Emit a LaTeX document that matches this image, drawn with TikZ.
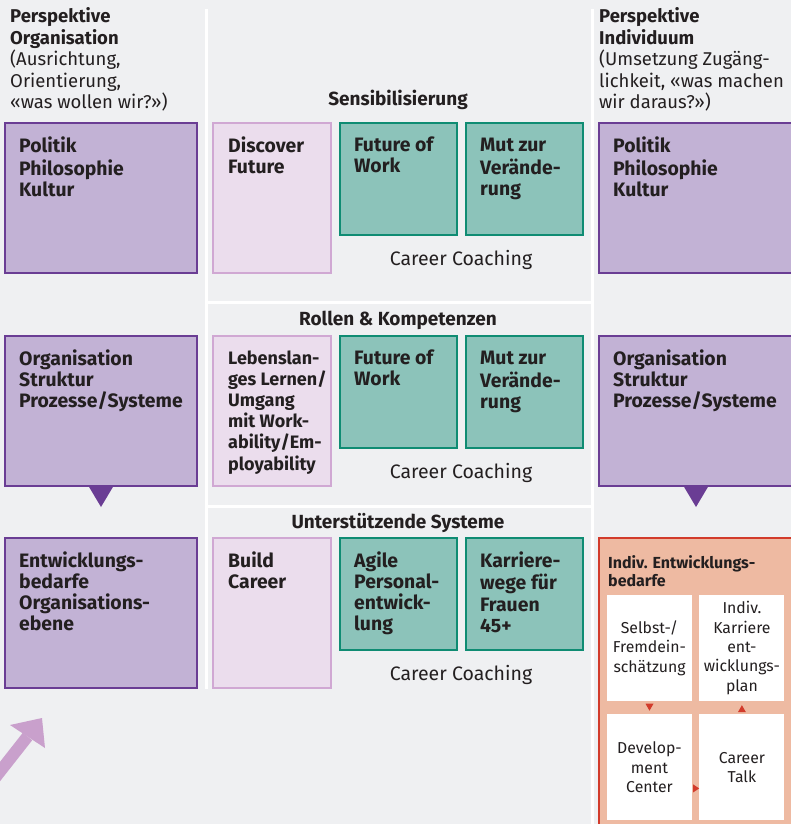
\documentclass[tikz,border=0pt]{standalone}
\usepackage{fontspec}
\setmainfont{Fira Sans}
\usetikzlibrary{positioning,calc}

\definecolor{bgcol}{HTML}{EFF0F2}
\definecolor{orgfill}{HTML}{C2B2D5}
\definecolor{orgline}{HTML}{6A3D94}
\definecolor{pinkfill}{HTML}{EBDDED}
\definecolor{pinkline}{HTML}{D0A8D3}
\definecolor{greenfill}{HTML}{8CC3BA}
\definecolor{greenline}{HTML}{0F8C73}
\definecolor{redfill}{HTML}{EEBAA2}
\definecolor{redline}{HTML}{D23B2B}
\definecolor{arrowcol}{HTML}{C9A0CC}
\definecolor{txtcol}{HTML}{231F20}

\tikzset{
  sepline/.style={white, line width=3pt},
  orgbox/.style={draw=orgline, fill=orgfill, line width=2pt},
  discbox/.style={draw=pinkline, fill=pinkfill, line width=2pt},
  greenbox/.style={draw=greenline, fill=greenfill, line width=2pt},
  redbox/.style={draw=redline, fill=redfill, line width=2pt},
  headtxt/.style={anchor=north west, align=left, inner sep=0pt, text=txtcol, font=\fontsize{18.5}{21.3}\selectfont},
  boxtxt/.style={anchor=north west, align=left, inner sep=0pt, text=txtcol, font=\bfseries\fontsize{19.4}{21.3}\selectfont},
  rowtxt/.style={anchor=base, inner sep=0pt, text=txtcol, font=\bfseries\fontsize{19}{20}\selectfont},
  cctxt/.style={anchor=base, inner sep=0pt, text=txtcol, font=\fontsize{19.5}{20}\selectfont},
  redtitle/.style={anchor=north west, align=left, inner sep=0pt, text=txtcol, font=\bfseries\fontsize{16}{16}\selectfont},
  whitebox/.style={fill=white, minimum width=85pt, minimum height=106pt, inner sep=0pt, align=center, text=txtcol, font=\fontsize{15.8}{19.4}\selectfont},
}

\begin{document}
\begin{tikzpicture}[x=1pt, y=-1pt]

  \useasboundingbox (0,0) rectangle (791,824);
  \fill[bgcol] (0,0) rectangle (791,824);
  \clip (0,0) rectangle (791,824);

  %white separators
  \draw[sepline] (206,9) -- (206,689);
  \draw[sepline] (592,9) -- (592,830);
  \foreach \y in {302,506}{
      \draw[sepline] (206,\y) -- (592,\y);
  }

  %column heads (top of first line = baseline - strut)
  \node[headtxt] (orghead) at (10,7.1) {\strut\textbf{Perspektive}\\\textbf{Organisation}\\(Ausrichtung,\\Orientierung,\\«was wollen wir?»)};
  \node[headtxt] (indhead) at (599,7.1) {\strut\textbf{Perspektive}\\\textbf{Individuum}\\(Umsetzung Zugäng-\\lichkeit, «was machen\\wir daraus?»)};

  %row titles and career coaching
  \def\dx{398};
  \foreach \y/\name/\txt in {106/sens/Sensibilisierung, 325/rollen/{Rollen \& Kompetenzen}, 528/unter/{Unterstützende Systeme}}{
      \node[rowtxt] (\name) at (\dx,\y) {\txt};
  }
  \foreach \y/\name in {265/cc1, 478/cc2, 680/cc3}{
      \node[cctxt] (\name) at (461,\y) {Career Coaching};
  }

  %purple boxes
  \def\h{150};
  \def\dy{13.1};
  \foreach \y/\name/\txt in {123/polL/{Politik\\Philosophie\\Kultur}, 336/orgL/{Organisation\\Struktur\\Prozesse/Systeme}, 538/entwL/{Entwicklungs-\\bedarfe\\Organisations-\\ebene}}{
      \draw[orgbox] (5,\y) rectangle (197,\y+\h);
      \node[boxtxt] (\name) at (19,\y+\dy) {\strut\txt};
  }
  \foreach \y/\name/\txt in {123/polR/{Politik\\Philosophie\\Kultur}, 336/orgR/{Organisation\\Struktur\\Prozesse/Systeme}}{
      \draw[orgbox] (599,\y) rectangle (820,\y+\h);
      \node[boxtxt] (\name) at (613,\y+\dy) {\strut\txt};
  }
  \foreach \x in {101,696}{
      \fill[orgline] (\x-12.5,486) -- (\x+12.5,486) -- (\x,507) -- cycle;
  }

  %pink boxes
  \foreach \y/\name/\txt in {123/disc/{Discover\\Future}, 538/build/{Build\\Career}}{
      \draw[discbox] (213,\y) rectangle (331,\y+\h);
      \node[boxtxt] (\name) at (228,\y+\dy) {\strut\txt};
  }
  \draw[discbox] (213,336) rectangle (331,336+\h);
  \node[boxtxt, font=\bfseries\fontsize{18}{21.2}\selectfont] (leben) at (228,336+\dy) {\strut Lebenslan-\\ges Lernen/\\Umgang\\mit Work-\\ability/Em-\\ployability};

  %green boxes
  \def\hg{112};
  \foreach \x/\y/\name/\txt in {340/123/futA/{Future of\\Work}, 466/123/mutA/{Mut zur\\Verände-\\rung}, 340/336/futB/{Future of\\Work}, 466/336/mutB/{Mut zur\\Verände-\\rung}, 340/538/agile/{Agile\\Personal-\\entwick-\\lung}, 466/538/frauen/{Karriere-\\wege für\\Frauen\\45+}}{
      \draw[greenbox] (\x,\y) rectangle (\x+117,\y+\hg);
      \node[boxtxt] (\name) at (\x+14,\y+\dy) {\strut\txt};
  }

  %individual needs
  \draw[redbox] (599,538) rectangle (820,840);
  \node[redtitle] (bedarf) at (608,555.8) {\strut Indiv. Entwicklungs-\\bedarfe};
  \node[whitebox] (selbst) at (649.5,648) {Selbst-/\\Fremdein-\\schätzung};
  \node[whitebox, right=7pt of selbst] (plan) {Indiv.\\Karriere\\ent-\\wicklungs-\\plan};
  \node[whitebox, below=13pt of selbst] (dc) {Develop-\\ment\\Center};
  \node[whitebox, right=7pt of dc] (talk) {Career\\Talk};

  \fill[redline] ($(selbst.south)+(-4,2.5)$) -- ++(8,0) -- ++(-4,7) -- cycle;
  \fill[redline] ($(plan.south)+(-4,11)$) -- ++(8,0) -- ++(-4,-7) -- cycle;
  \fill[redline] ($(dc.east)+(1,17)$) -- ++(0,8) -- ++(6,-4) -- cycle;

  %big arrow
  \draw[arrowcol, line width=12pt] (-20,797) -- (27.5,736.5);
  \fill[arrowcol] (42,718) -- (10,725) -- (45,748) -- cycle;

\end{tikzpicture}
\end{document}
